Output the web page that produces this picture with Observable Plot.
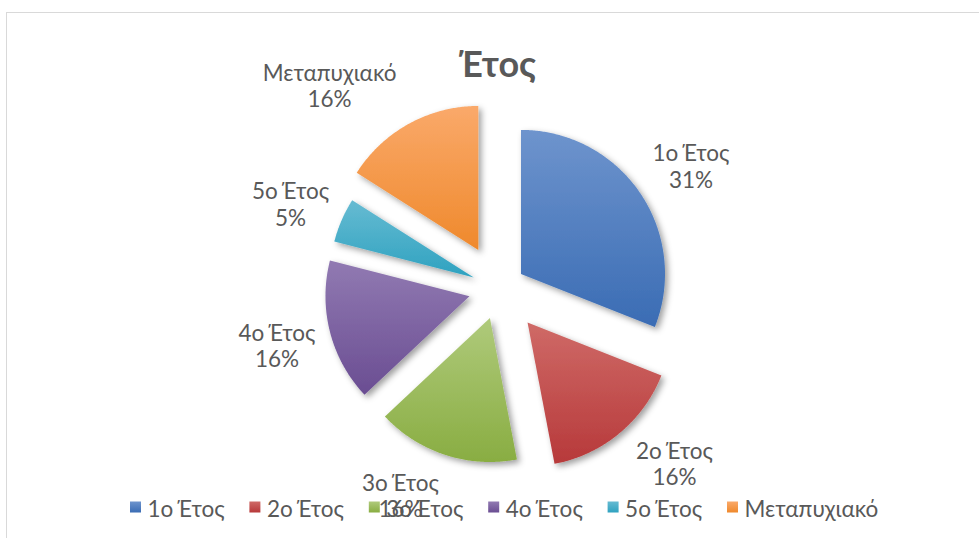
<!DOCTYPE html>
<html>
<head>
<meta charset="utf-8">
<script src="https://cdn.jsdelivr.net/npm/d3@7"></script>
<script src="https://cdn.jsdelivr.net/npm/@observablehq/plot@0.6"></script>
<style>
  html, body { margin: 0; padding: 0; background: #ffffff; }
  #chart { width: 979px; height: 538px; overflow: hidden; }
  #chart svg { display: block; overflow: hidden; }
</style>
</head>
<body>
<svg width="0" height="0" style="position:absolute">
  <defs>
    <linearGradient id="g0" x1="0" y1="0" x2="0" y2="1"><stop offset="0" stop-color="#6E94CD"/><stop offset="1" stop-color="#3A6CB4"/></linearGradient>
    <linearGradient id="g1" x1="0" y1="0" x2="0" y2="1"><stop offset="0" stop-color="#CF6A67"/><stop offset="1" stop-color="#B7393A"/></linearGradient>
    <linearGradient id="g2" x1="0" y1="0" x2="0" y2="1"><stop offset="0" stop-color="#AFCA7B"/><stop offset="1" stop-color="#89AD42"/></linearGradient>
    <linearGradient id="g3" x1="0" y1="0" x2="0" y2="1"><stop offset="0" stop-color="#917AB2"/><stop offset="1" stop-color="#6A4D92"/></linearGradient>
    <linearGradient id="g4" x1="0" y1="0" x2="0" y2="1"><stop offset="0" stop-color="#66BBD2"/><stop offset="1" stop-color="#2FA2C0"/></linearGradient>
    <linearGradient id="g5" x1="0" y1="0" x2="0" y2="1"><stop offset="0" stop-color="#FAA96A"/><stop offset="1" stop-color="#EF892C"/></linearGradient>
    <filter id="shadow" x="-20%" y="-20%" width="150%" height="150%">
      <feDropShadow dx="3" dy="3" stdDeviation="3" flood-color="#000000" flood-opacity="0.38"/>
    </filter>
  </defs>
</svg>
<div id="chart"></div>
<script>
// ---- data ----
const chartTitle = "Έτος";
const categories = ["1ο Έτος", "2ο Έτος", "3ο Έτος", "4ο Έτος", "5ο Έτος", "Μεταπυχιακό"];
const values = [31, 16, 16, 16, 5, 16];

// ---- style / layout ----
const W = 979, H = 538;
const center = {x: 499, y: 288};
const R = 144;
const explode = [26, 44, 31, 31, 28, 44];
const labelNudge = [[9.5, 0.7], [23.3, -8.4], [-29.5, -7.3], [-4.6, 0.7], [-5.2, 3.2], [-55.3, 5.3]];
const textColor = "#595959";
const font = "Lato, 'Open Sans', sans-serif";

const total = d3.sum(values);
const percentLabels = values.map(v => Math.round(100 * v / total) + "%");
const arcs = d3.pie().sort(null).value(d => d)(values);

// slice outlines (tip + outer arc), computed from the pie angles
const slices = arcs.map((a, i) => {
  const mid = (a.startAngle + a.endAngle) / 2;
  const tx = center.x + explode[i] * Math.sin(mid);
  const ty = center.y - explode[i] * Math.cos(mid);
  const pts = [{x: tx, y: ty}];
  const steps = Math.max(8, Math.ceil((a.endAngle - a.startAngle) / (Math.PI / 360)));
  for (let k = 0; k <= steps; k++) {
    const ang = a.startAngle + (a.endAngle - a.startAngle) * k / steps;
    pts.push({x: tx + R * Math.sin(ang), y: ty - R * Math.cos(ang)});
  }
  pts.push({x: tx, y: ty});
  return pts;
});

const labels = arcs.map((a, i) => {
  const mid = (a.startAngle + a.endAngle) / 2;
  const d = R + explode[i] + 50;
  return {
    x: center.x + d * Math.sin(mid) + labelNudge[i][0],
    y: center.y - d * Math.cos(mid) + 22 + labelNudge[i][1],
    text: categories[i] + "\n" + percentLabels[i]
  };
});

const legendStart = 130, legendStep = 119.4, legendY = 507;
const legend = categories.map((c, i) => ({x: legendStart + i * legendStep, name: c, i}));

const marks = [
  Plot.rect([0], {x1: 6.5, x2: W + 10, y1: 12.5, y2: H + 10, fill: "none", stroke: "#D9D9D9", strokeWidth: 1})
];
slices.forEach((pts, i) => {
  marks.push(Plot.line(pts, {x: "x", y: "y", fill: `url(#g${i})`, stroke: "none", curve: "linear"}));
});
marks.push(Plot.text(labels, {
  x: "x", y: "y", text: "text", textAnchor: "middle", lineAnchor: "bottom",
  lineHeight: 1.17, fontSize: 22.5, fill: textColor, fontFamily: font
}));
marks.push(Plot.text([chartTitle], {
  x: () => 497, y: () => 76.5, text: d => d, textAnchor: "middle", lineAnchor: "bottom",
  fontSize: 36, fontWeight: "bold", fill: textColor, fontFamily: font
}));
legend.forEach(d => {
  marks.push(Plot.rect([d], {x1: e => e.x, x2: e => e.x + 11, y1: legendY - 5.5, y2: legendY + 5.5, fill: `url(#g${d.i})`}));
});
marks.push(Plot.text(legend, {
  x: d => d.x + 17, y: legendY + 9, text: "name", textAnchor: "start", lineAnchor: "bottom",
  fontSize: 22.5, fill: textColor, fontFamily: font
}));

const svg = Plot.plot({
  width: W, height: H, margin: 0,
  x: {type: "linear", domain: [0, W], range: [0, W], axis: null},
  y: {type: "linear", domain: [0, H], range: [0, H], axis: null},
  style: {background: "#ffffff", fontFamily: font, overflow: "hidden"},
  marks
});
d3.select(svg).selectAll('g[aria-label="line"] path').attr("filter", "url(#shadow)");
document.getElementById("chart").appendChild(svg);
</script>
</body>
</html>
